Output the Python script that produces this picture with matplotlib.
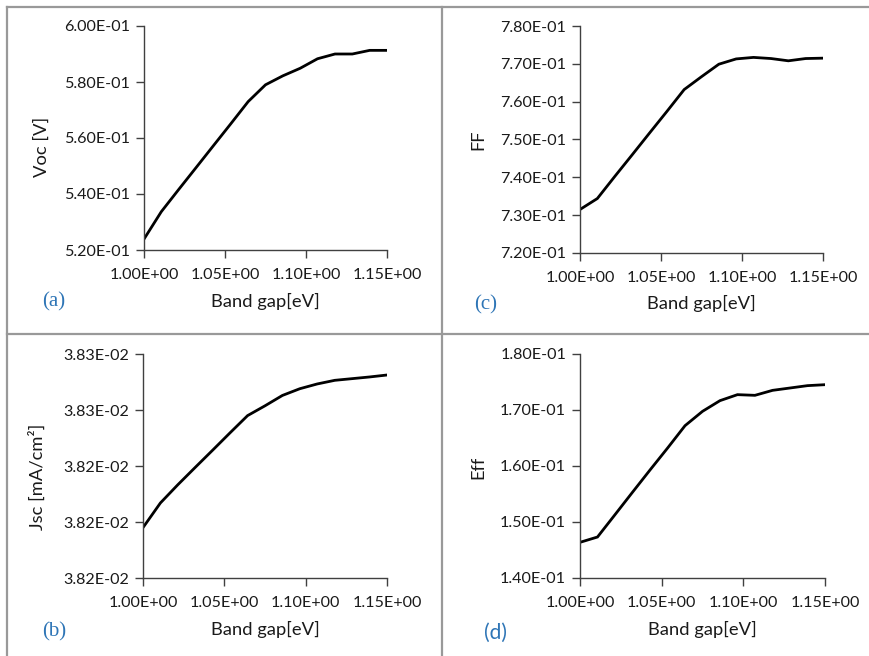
import matplotlib
matplotlib.use("Agg")
import matplotlib.pyplot as plt
from matplotlib.lines import Line2D

band_gap = [1.0, 1.0107, 1.0214, 1.0321, 1.0429, 1.0536, 1.0643, 1.075,
            1.0857, 1.0964, 1.1071, 1.1179, 1.1286, 1.1393, 1.15]

voc = [0.5239, 0.5337, 0.5416, 0.5494, 0.5573, 0.5651, 0.5730, 0.5790,
       0.5822, 0.5849, 0.5883, 0.5900, 0.5900, 0.5913, 0.5913]

ff = [0.7315, 0.7344, 0.7402, 0.7459, 0.7517, 0.7574, 0.7632, 0.7666,
      0.7699, 0.7713, 0.7717, 0.7714, 0.7708, 0.7714, 0.7715]

jsc = [0.038228, 0.0382368, 0.0382433, 0.0382495, 0.0382557, 0.0382619,
       0.038268, 0.0382715, 0.0382752, 0.0382776, 0.0382793, 0.0382806,
       0.0382812, 0.0382818, 0.0382825]

eff = [0.14637, 0.14732, 0.1513, 0.1553, 0.1593, 0.1632, 0.16720, 0.16976,
       0.17167, 0.17274, 0.17262, 0.17351, 0.17393, 0.17435, 0.17452]

x_ticks = [1.00, 1.05, 1.10, 1.15]
x_tick_labels = ["1.00E+00", "1.05E+00", "1.10E+00", "1.15E+00"]

voc_ticks = [0.52, 0.54, 0.56, 0.58, 0.60]
voc_labels = ["5.20E-01", "5.40E-01", "5.60E-01", "5.80E-01", "6.00E-01"]
ff_ticks = [0.72, 0.73, 0.74, 0.75, 0.76, 0.77, 0.78]
ff_labels = ["7.20E-01", "7.30E-01", "7.40E-01", "7.50E-01", "7.60E-01", "7.70E-01", "7.80E-01"]
jsc_ticks = [0.03821, 0.03823, 0.03825, 0.03827, 0.03829]
jsc_labels = ["3.82E-02", "3.82E-02", "3.82E-02", "3.83E-02", "3.83E-02"]
eff_ticks = [0.14, 0.15, 0.16, 0.17, 0.18]
eff_labels = ["1.40E-01", "1.50E-01", "1.60E-01", "1.70E-01", "1.80E-01"]

W, H = 870, 656
fig = plt.figure(figsize=(W / 100, H / 100), dpi=100)
fig.patch.set_facecolor("white")

FONT = "Lato"
TICK_FS = 11.6
LBL_FS = 13.2
blue = "#2E75B6"


def px_rect(left, right, top, bottom):
    return [left / W, 1 - bottom / H, (right - left) / W, (bottom - top) / H]


def make_panel(rect, y, yticks, ylabels, ylabel, ylab_xy, tag, tag_xy, tag_family):
    ax = fig.add_axes(rect)
    ax.plot(band_gap, y, color="black", lw=2.0, solid_joinstyle="miter")
    ax.set_xlim(1.0, 1.15)
    ax.set_ylim(yticks[0], yticks[-1])
    ax.set_xticks(x_ticks)
    ax.set_xticklabels(x_tick_labels, fontfamily=FONT, fontsize=TICK_FS)
    ax.set_yticks(yticks)
    ax.set_yticklabels(ylabels, fontfamily=FONT, fontsize=TICK_FS)
    for s in ("top", "right"):
        ax.spines[s].set_visible(False)
    for s in ("left", "bottom"):
        ax.spines[s].set_color("#404040")
        ax.spines[s].set_linewidth(1.0)
    ax.tick_params(direction="out", length=6, width=1.0, color="#404040",
                   labelcolor="#1a1a1a", pad=4)
    ax.tick_params(axis="x", pad=7)
    ax.patch.set_alpha(0)
    fig.text(ylab_xy[0] / W, 1 - ylab_xy[1] / H, ylabel, rotation=90,
             ha="center", va="center", fontfamily=FONT, fontsize=LBL_FS, color="#1a1a1a")
    cx = (rect[0] + rect[2] / 2)
    fig.text(cx, 1 - (tag_xy[2]) / H, "Band gap[eV]", ha="center", va="center",
             fontfamily=FONT, fontsize=LBL_FS, color="#1a1a1a")
    fig.text(tag_xy[0] / W, 1 - tag_xy[1] / H, tag, ha="left", va="center",
             fontfamily=tag_family, fontsize=15, color=blue)
    return ax


make_panel(px_rect(144, 387, 26, 250), voc, voc_ticks, voc_labels, "Voc [V]",
           (42, 147), "(a)", (42, 302, 301), "Liberation Serif")
make_panel(px_rect(580, 823, 26, 253), ff, ff_ticks, ff_labels, "FF",
           (478, 140), "(c)", (474, 305, 303), "Liberation Serif")
make_panel(px_rect(143, 387, 354, 578), jsc, jsc_ticks, jsc_labels, "Jsc [mA/cm²]",
           (37, 477), "(b)", (42, 632, 629), "Liberation Serif")
make_panel(px_rect(580, 825, 354, 578), eff, eff_ticks, eff_labels, "Eff",
           (478, 467), "(d)", (484, 633, 629), "Lato")

# table borders
border = "#999999"
for (x0, y0, x1, y1) in [(7, 7, 870, 7), (7, 7, 7, 656), (442.5, 7, 442.5, 656),
                         (7, 333.5, 870, 333.5)]:
    fig.add_artist(Line2D([x0 / W, x1 / W], [1 - y0 / H, 1 - y1 / H],
                          color=border, lw=1.6, transform=fig.transFigure))

fig.savefig("out.png", dpi=100, facecolor="white")
